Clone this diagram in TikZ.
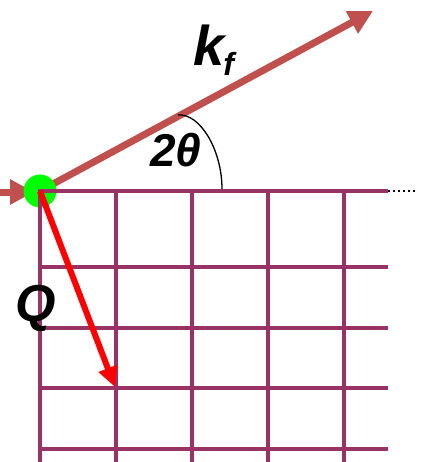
\documentclass[tikz,border=0pt]{standalone}
\usepackage{fontspec}
\setmainfont{Liberation Sans}
\usetikzlibrary{arrows.meta}
\definecolor{gridc}{HTML}{993366}
\definecolor{kfc}{HTML}{C0504D}
\definecolor{qc}{HTML}{FF0000}
\definecolor{dotc}{HTML}{00FF00}
\begin{document}
\begin{tikzpicture}[x=1pt,y=-1pt,
  gridline/.style={draw=gridc,line width=4pt},
  beam/.style={draw=kfc,line width=7pt,-{Triangle[length=24pt,width=24pt]}},
  qvec/.style={draw=qc,line width=6pt,-{Triangle[length=20pt,width=19pt]}},
  lbl/.style={inner sep=0pt,anchor=base west,font=\bfseries\itshape}]
\useasboundingbox (0,0) rectangle (423,462);
% coordinates
\coordinate (o) at (40,191);
\coordinate (kfend) at (373,11);
\coordinate (inA) at (-2,192);
\coordinate (inB) at (34,192);
\coordinate (qend) at (115,387);
\coordinate (arcA) at (178,115);
\coordinate (arcB) at (222,189);
\coordinate (dotA) at (388,191);
\coordinate (dotB) at (416,191);
% beams
\draw[beam] (o) -- (kfend);
\draw[beam] (inA) -- (inB);
\node[circle,fill=dotc,minimum size=33pt,inner sep=0pt] (dot) at (o) {};
% grid
\foreach \x in {40,116,192,268,344}
  \draw[gridline] (\x,189) -- (\x,470);
\foreach \y in {191,267,328,388,449}
  \draw[gridline] (38,\y) -- (388,\y);
\draw[black,line width=2pt,dash pattern=on 2pt off 3pt] (dotA) -- (dotB);
% Q vector
\draw[qvec] (dot.center) -- (qend);
% angle arc
\draw[black,line width=1.3pt] (arcA) .. controls (200,113) and (222,150) .. (arcB);
% labels
\node[lbl] (kf) at (193,66) {\fontsize{56}{56}\selectfont k\hspace{-1pt}\raisebox{-10pt}{\fontsize{32}{32}\selectfont f}};
\node[lbl] (th) at (150,167) {\fontsize{46}{46}\selectfont 2θ};
\node[lbl] (q) at (15,321) {\fontsize{52}{52}\selectfont Q};
\end{tikzpicture}
\end{document}
